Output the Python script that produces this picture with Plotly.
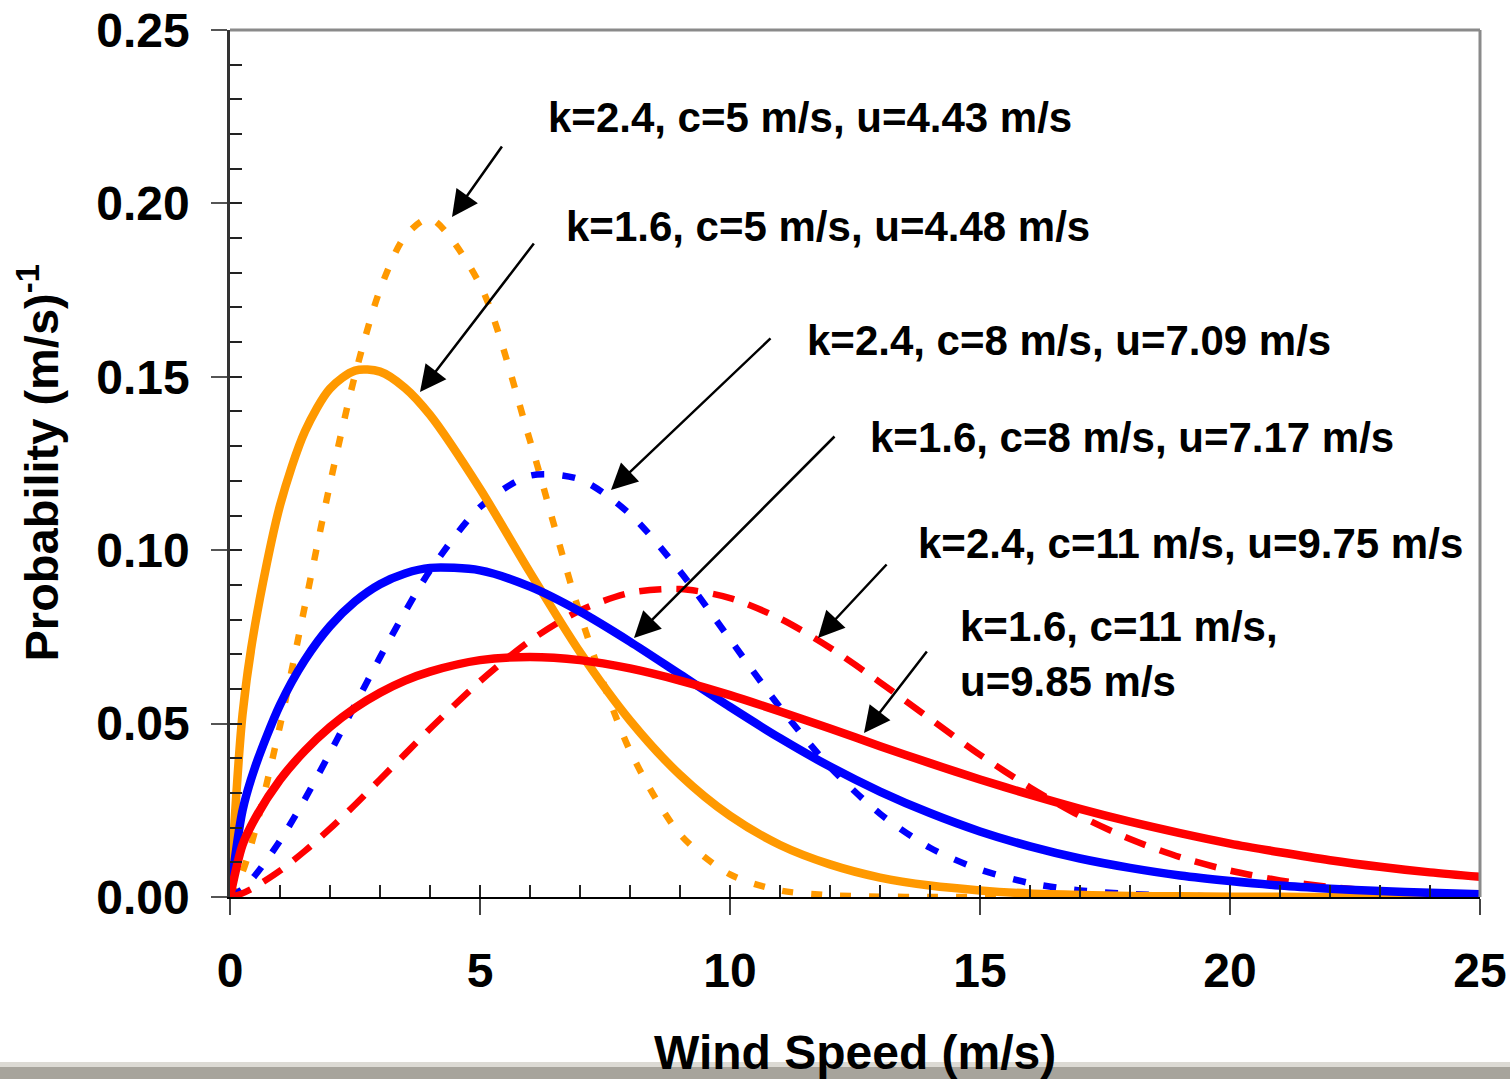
import plotly.graph_objects as go

# Wind speed grid (m/s)
wind_speed = [0, 0.25, 0.5, 1, 1.5, 2, 2.5, 3, 3.5, 4,
              5, 6, 7, 8, 9, 10, 11, 12, 13, 14, 15,
              16, 17, 18, 19, 20, 21, 22, 23, 24, 25]

# Probability density values, (m/s)^-1
p_k16_c5 = [0, 0.0526, 0.0784, 0.1129, 0.1343, 0.1466, 0.1518, 0.1515, 0.1468, 0.1390,
            0.1177, 0.0936, 0.0706, 0.0509, 0.0352, 0.0234, 0.0150, 0.0094, 0.0056, 0.0033, 0.0019,
            0.0010, 0.0006, 0.0003, 0.0002, 0.0001, 0.00004, 0.00002, 0.00001, 0.0, 0.0]
p_k24_c5 = [0, 0.0072, 0.0190, 0.0494, 0.0841, 0.1191, 0.1505, 0.1751, 0.1905, 0.1956,
            0.1766, 0.1316, 0.0816, 0.0422, 0.0181, 0.0065, 0.0019, 0.0005, 0.0001, 0.0, 0.0,
            0.0, 0.0, 0.0, 0.0, 0.0, 0.0, 0.0, 0.0, 0.0, 0.0]
p_k16_c8 = [0, 0.0249, 0.0374, 0.0554, 0.0684, 0.0781, 0.0852, 0.0902, 0.0933, 0.0949,
            0.0942, 0.0895, 0.0823, 0.0736, 0.0642, 0.0548, 0.0458, 0.0376, 0.0304, 0.0242, 0.0189,
            0.0146, 0.0111, 0.0084, 0.0062, 0.0046, 0.0033, 0.0024, 0.0017, 0.0012, 0.0008]
p_k24_c8 = [0, 0.0023, 0.0062, 0.0162, 0.0283, 0.0416, 0.0554, 0.0691, 0.0822, 0.0941,
            0.1124, 0.1215, 0.1204, 0.1104, 0.0939, 0.0743, 0.0547, 0.0375, 0.0240, 0.0142, 0.0079,
            0.0040, 0.0019, 0.0009, 0.0004, 0.0001, 0.00005, 0.00002, 0.0, 0.0, 0.0]
p_k16_c11 = [0, 0.0150, 0.0226, 0.0338, 0.0422, 0.0490, 0.0545, 0.0589, 0.0624, 0.0650,
             0.0683, 0.0692, 0.0683, 0.0659, 0.0624, 0.0582, 0.0535, 0.0486, 0.0435, 0.0386, 0.0339,
             0.0295, 0.0254, 0.0217, 0.0184, 0.0154, 0.0129, 0.0106, 0.0087, 0.0071, 0.0058]
p_k24_c11 = [0, 0.0011, 0.0029, 0.0076, 0.0133, 0.0197, 0.0266, 0.0339, 0.0412, 0.0485,
             0.0622, 0.0739, 0.0826, 0.0877, 0.0888, 0.0862, 0.0803, 0.0719, 0.0619, 0.0514, 0.0410,
             0.0316, 0.0234, 0.0167, 0.0115, 0.0076, 0.0048, 0.0029, 0.0017, 0.0010, 0.0005]

series_names = ["k=1.6, c=5", "k=2.4, c=5", "k=1.6, c=8", "k=2.4, c=8", "k=1.6, c=11", "k=2.4, c=11"]
labels = [
    "k=2.4, c=5 m/s, u=4.43 m/s",
    "k=1.6, c=5 m/s, u=4.48 m/s",
    "k=2.4, c=8 m/s, u=7.09 m/s",
    "k=1.6, c=8 m/s, u=7.17 m/s",
    "k=2.4, c=11 m/s, u=9.75 m/s",
    "k=1.6, c=11 m/s,<br>u=9.85 m/s",
]
x_title = "Wind Speed (m/s)"
y_title = "Probability (m/s)<sup>-1</sup>"

ORANGE = "#FF9900"
BLUE = "#0000FF"
RED = "#FF0000"
FONT = "Liberation Sans, Arial, sans-serif"

fig = go.Figure()

def add(y, name, color, width, dash):
    fig.add_trace(go.Scatter(x=wind_speed, y=y, name=name, mode="lines",
                             line=dict(color=color, width=width, dash=dash,
                                       shape="spline", smoothing=0.8)))

add(p_k24_c5, series_names[1], ORANGE, 6.5, "11px,18px")
add(p_k24_c8, series_names[3], BLUE, 6.5, "13px,18px")
add(p_k24_c11, series_names[5], RED, 6.5, "22px,15px")
add(p_k16_c5, series_names[0], ORANGE, 8.5, "solid")
add(p_k16_c8, series_names[2], BLUE, 8.5, "solid")
add(p_k16_c11, series_names[4], RED, 8.5, "solid")

# invisible helper trace so the overlaid minor-tick axes get drawn
fig.add_trace(go.Scatter(x=[0], y=[0], xaxis="x2", yaxis="y2", mode="markers",
                         marker=dict(opacity=0), hoverinfo="skip", showlegend=False))

# pixel helpers for annotation placement
def px_x(p):
    return (p - 230) / 50.0

def px_y(p):
    return (897 - p) / 3468.0

annots = []
text_pos = [(546, 117), (564, 226), (805, 340), (868, 437), (916, 543), (958, 654)]
for (tx, ty), lab in zip(text_pos, labels):
    annots.append(dict(x=px_x(tx), y=px_y(ty), xref="x", yref="y", text=lab,
                       showarrow=False, xanchor="left", yanchor="middle", align="left",
                       font=dict(family=FONT, size=42, color="black", weight="bold")))

arrows = [((452, 217), (503, 145)),
          ((420, 392), (535, 242)),
          ((611, 490), (772, 337)),
          ((634, 638), (836, 435)),
          ((818, 638), (888, 563)),
          ((864, 733), (928, 650))]
for (hx, hy), (tx, ty) in arrows:
    annots.append(dict(x=px_x(hx), y=px_y(hy), ax=px_x(tx), ay=px_y(ty),
                       xref="x", yref="y", axref="x", ayref="y", text="",
                       showarrow=True, arrowhead=2, arrowsize=2.1, arrowwidth=2.5,
                       arrowcolor="black", standoff=0))

# axis titles
annots.append(dict(x=0.5, y=(897 - 1052) / 867.0, xref="paper", yref="paper",
                   text=x_title, showarrow=False, xanchor="center", yanchor="middle",
                   font=dict(family=FONT, size=48, color="black", weight="bold")))
annots.append(dict(x=(38 - 230) / 1250.0, y=0.5, xref="paper", yref="paper",
                   text=y_title, showarrow=False, textangle=-90,
                   xanchor="center", yanchor="middle",
                   font=dict(family=FONT, size=47, color="black", weight="bold")))

tickfont = dict(family=FONT, size=48, color="black", weight="bold")

fig.update_layout(
    width=1510, height=1079,
    margin=dict(l=230, r=30, t=30, b=182, autoexpand=False),
    paper_bgcolor="white", plot_bgcolor="white",
    showlegend=False,
    annotations=annots,
    xaxis=dict(range=[0, 25], tick0=0, dtick=5, showgrid=False, zeroline=False,
               showline=True, linecolor="black", linewidth=2, automargin=False,
               ticks="outside", ticklen=16, tickwidth=2, tickcolor="#444",
               tickfont=tickfont, ticklabelstandoff=14),
    xaxis2=dict(range=[0, 25], overlaying="x", anchor="y2", side="bottom", tick0=0, dtick=1,
                showgrid=False, zeroline=False, showline=False, showticklabels=False,
                automargin=False, ticks="inside", ticklen=12, tickwidth=2, tickcolor="#222"),
    yaxis=dict(range=[0, 0.25], tick0=0, dtick=0.05, tickformat=".2f", showgrid=False,
               zeroline=False, showline=True, linecolor="#333", linewidth=2.5, automargin=False,
               ticks="outside", ticklen=16, tickwidth=2, tickcolor="#555",
               tickfont=tickfont, ticklabelstandoff=12),
    yaxis2=dict(range=[0, 0.25], overlaying="y", anchor="x2", side="left", tick0=0, dtick=0.01,
                showgrid=False, zeroline=False, showline=False, showticklabels=False,
                automargin=False, ticks="inside", ticklen=12, tickwidth=2, tickcolor="#222"),
    shapes=[
        dict(type="line", xref="paper", yref="paper", x0=0, x1=1, y0=1, y1=1,
             line=dict(color="#8a8a8a", width=3), layer="above"),
        dict(type="line", xref="paper", yref="paper", x0=1, x1=1, y0=0, y1=1,
             line=dict(color="#8a8a8a", width=3), layer="above"),
        dict(type="rect", xref="paper", yref="paper", x0=-0.2, x1=1.05,
             y0=(897 - 1062) / 867.0, y1=(897 - 1067) / 867.0,
             line=dict(width=0), fillcolor="#dcdad4", layer="below"),
        dict(type="rect", xref="paper", yref="paper", x0=-0.2, x1=1.05,
             y0=(897 - 1067) / 867.0, y1=(897 - 1085) / 867.0,
             line=dict(width=0), fillcolor="#a7a49c", layer="below"),
    ],
)

fig.write_html("out.html")
